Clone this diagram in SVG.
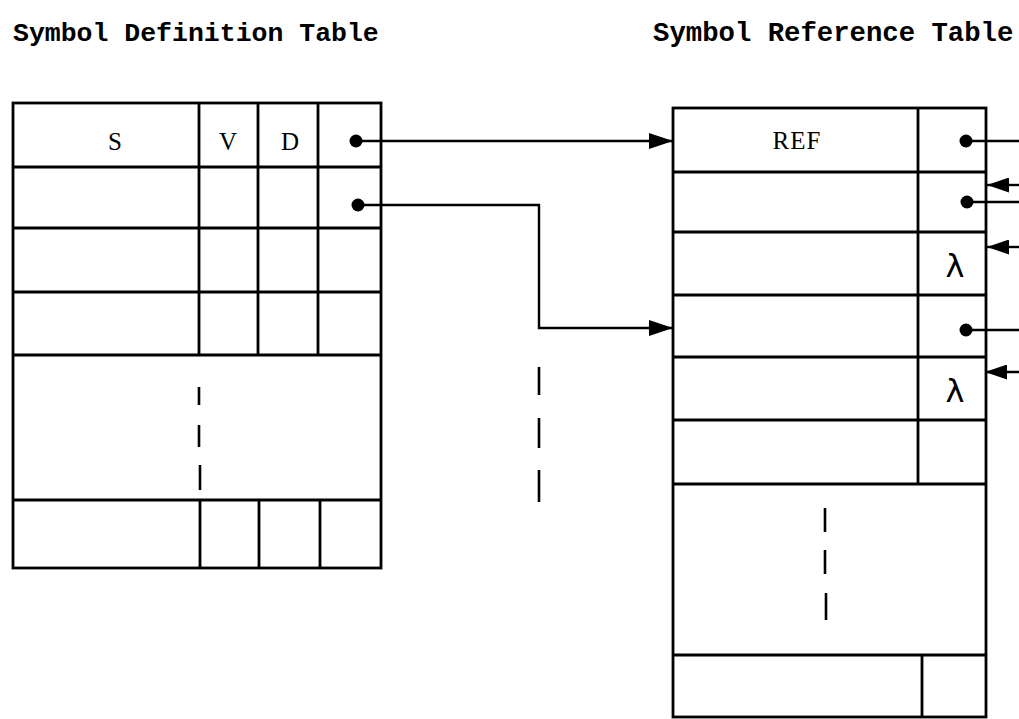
<svg xmlns="http://www.w3.org/2000/svg" width="1019" height="719" viewBox="0 0 1019 719">
<defs>
<style>
.tbl{fill:none;stroke:#000;stroke-width:2.8}
.ln{fill:none;stroke:#000;stroke-width:2.4}
.dash{fill:none;stroke:#000;stroke-width:2.6}
.dot{fill:#000}
.ttl{font-family:"Liberation Mono",monospace;font-weight:bold;fill:#000}
.cell{font-family:"Liberation Serif",serif;font-size:25px;fill:#000;text-anchor:middle}
.lam{font-family:"DejaVu Sans",sans-serif;font-size:32px;fill:#000;text-anchor:middle}
</style>
<marker id="ah" viewBox="0 0 24 16" refX="24" refY="8" markerWidth="24" markerHeight="16" markerUnits="userSpaceOnUse" orient="auto">
<path d="M0,0 L24,8 L0,16 Z" fill="#000"/>
</marker>
<marker id="ahs" viewBox="0 0 22 15" refX="22" refY="7.5" markerWidth="22" markerHeight="15" markerUnits="userSpaceOnUse" orient="auto">
<path d="M0,0 L22,7.5 L0,15 Z" fill="#000"/>
</marker>
</defs>
<rect width="1019" height="719" fill="#fff"/>
<text class="ttl" x="13" y="41" font-size="26.5">Symbol Definition Table</text>
<text class="ttl" x="653" y="41" font-size="27.3">Symbol Reference Table</text>

<g id="definition-table">
<rect class="tbl" x="13" y="103" width="368" height="465"/>
<path class="tbl" d="M13,167H381M13,228H381M13,292H381M13,355H381M13,500H381"/>
<path class="tbl" d="M199,103V355M258,103V355M318,103V355M200,500V568M259,500V568M320,500V568"/>
<text class="cell" x="115" y="150">S</text>
<text class="cell" x="228" y="150">V</text>
<text class="cell" x="290" y="150">D</text>
<path class="dash" d="M199,387V405M199,425V447M200,465V490"/>
<circle class="dot" cx="356" cy="141" r="6.5"/>
<circle class="dot" cx="358" cy="205" r="6.5"/>
</g>

<g id="reference-table">
<rect class="tbl" x="673" y="108" width="313" height="609"/>
<path class="tbl" d="M673,172H986M673,232H986M673,295H986M673,357H986M673,420H986M673,484H986M673,655H986"/>
<path class="tbl" d="M918,108V484M922,655V717"/>
<text class="cell" x="797" y="149" letter-spacing="1">REF</text>
<path class="dash" d="M825,508V532M825,550V574M826,593V620"/>
<circle class="dot" cx="966" cy="141" r="6.5"/>
<circle class="dot" cx="967" cy="202" r="6.5"/>
<circle class="dot" cx="966" cy="330" r="6.5"/>
<text class="lam" x="955" y="277">λ</text>
<text class="lam" x="955" y="402">λ</text>
</g>

<g id="connectors">
<path class="ln" d="M356,141H673" marker-end="url(#ah)"/>
<path class="ln" d="M358,205H539V328H673" marker-end="url(#ah)"/>
<path class="dash" d="M539,367V395M539,418V448M539,470V502"/>
<path class="ln" d="M966,141H1019"/>
<path class="ln" d="M967,202H1019"/>
<path class="ln" d="M966,330H1019"/>
<path class="ln" d="M1019,185H987" marker-end="url(#ahs)"/>
<path class="ln" d="M1019,247H987" marker-end="url(#ahs)"/>
<path class="ln" d="M1019,372H985" marker-end="url(#ahs)"/>
</g>
</svg>
